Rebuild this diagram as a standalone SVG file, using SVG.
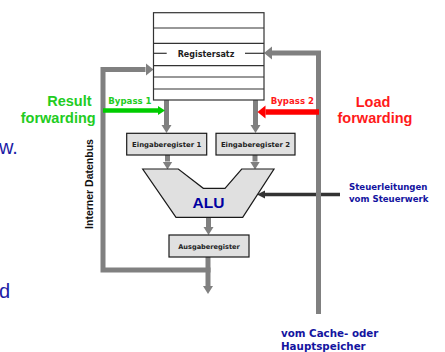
<svg xmlns="http://www.w3.org/2000/svg" width="445" height="352" viewBox="0 0 445 352">
<style>
.box{fill:#e0e0e0;stroke:#1a1a1a;stroke-width:1.2}
.reg{fill:#ffffff;stroke:#333;stroke-width:1.2}
.rl{stroke:#333;stroke-width:1.2}
.bus{fill:none;stroke:#808080;stroke-width:5;stroke-linejoin:miter}
.sm{font-family:"DejaVu Sans",Verdana,sans-serif;font-weight:bold}
.big{font-family:"Liberation Sans",Arial,sans-serif;font-weight:bold}
.blue{fill:#1414a0}
</style>
<defs>
<marker id="ag" markerUnits="userSpaceOnUse" viewBox="0 -6 10 12" markerWidth="10" markerHeight="12" refX="0" refY="0" orient="auto"><path d="M0,-5 L8,0 L0,5 z" fill="#808080"/></marker>
<marker id="agb" markerUnits="userSpaceOnUse" viewBox="0 -7 10 14" markerWidth="10" markerHeight="14" refX="0" refY="0" orient="auto"><path d="M0,-6.5 L8,0 L0,6.5 z" fill="#808080"/></marker>
<marker id="agr" markerUnits="userSpaceOnUse" viewBox="0 -5 8 10" markerWidth="8" markerHeight="10" refX="0" refY="0" orient="auto"><path d="M0,-4.5 L7,0 L0,4.5 z" fill="#00cc00"/></marker>
<marker id="ard" markerUnits="userSpaceOnUse" viewBox="0 -7 10 14" markerWidth="10" markerHeight="14" refX="0" refY="0" orient="auto"><path d="M0,-6.5 L8,0 L0,6.5 z" fill="#ff0000"/></marker>
<marker id="adk" markerUnits="userSpaceOnUse" viewBox="0 -5 10 10" markerWidth="10" markerHeight="10" refX="0" refY="0" orient="auto"><path d="M0,-4 L8,0 L0,4 z" fill="#333"/></marker>
</defs>
<rect width="445" height="352" fill="#ffffff"/>

<text class="big" x="-1" y="154" font-size="20" font-weight="normal" style="font-weight:normal" fill="#1c1ca6">w.</text>
<text class="big" x="-1" y="298" font-size="20" style="font-weight:normal" fill="#1c1ca6">d</text>

<g id="connectors">
<line x1="340" y1="194.5" x2="265" y2="194.5" stroke="#333" stroke-width="3.5" marker-end="url(#adk)"/>
<path class="bus" d="M210.5,270 H103 V69.5 H145.5" marker-end="url(#agb)"/>
<path class="bus" d="M318.5,314 V53 H272" marker-end="url(#agb)"/>
<line x1="166.5" y1="100" x2="166.5" y2="125" stroke="#808080" stroke-width="5" marker-end="url(#ag)"/>
<line x1="255.5" y1="100" x2="255.5" y2="125" stroke="#808080" stroke-width="5" marker-end="url(#ag)"/>
<line x1="167.5" y1="155" x2="167.5" y2="161.5" stroke="#808080" stroke-width="5" marker-end="url(#ag)"/>
<line x1="255" y1="155" x2="255" y2="161.5" stroke="#808080" stroke-width="5" marker-end="url(#ag)"/>
<line x1="208.5" y1="217" x2="208.5" y2="227" stroke="#808080" stroke-width="5" marker-end="url(#ag)"/>
<line x1="208" y1="257" x2="208" y2="286" stroke="#808080" stroke-width="5" marker-end="url(#ag)"/>
<line x1="103" y1="110.5" x2="158" y2="110.5" stroke="#00cc00" stroke-width="4.5" marker-end="url(#agr)"/>
<line x1="319" y1="112" x2="265.5" y2="112" stroke="#ff0000" stroke-width="5.5" marker-end="url(#ard)"/>
</g>

<g id="registersatz">
<rect class="reg" x="153.5" y="12.7" width="110.5" height="87.3"/>
<line class="rl" x1="153.5" y1="28" x2="264" y2="28"/>
<line class="rl" x1="153.5" y1="43.3" x2="264" y2="43.3"/>
<line class="rl" x1="153.5" y1="53.3" x2="166.7" y2="53.3"/>
<line class="rl" x1="245" y1="53.3" x2="264" y2="53.3"/>
<line class="rl" x1="153.5" y1="65.7" x2="264" y2="65.7"/>
<line class="rl" x1="153.5" y1="77" x2="264" y2="77"/>
<line class="rl" x1="153.5" y1="89" x2="264" y2="89"/>
<text class="sm" x="206" y="56.6" font-size="8" text-anchor="middle" fill="#222">Registersatz</text>
</g>

<g id="eingaberegister1">
<rect class="box" x="126.7" y="133.3" width="80" height="21.7"/>
<text class="sm" x="166.7" y="146.8" font-size="6.9" text-anchor="middle" fill="#222">Eingaberegister 1</text>
</g>
<g id="eingaberegister2">
<rect class="box" x="216" y="133.3" width="79" height="21.7"/>
<text class="sm" x="255.5" y="146.8" font-size="6.9" text-anchor="middle" fill="#222">Eingaberegister 2</text>
</g>

<g id="alu">
<path class="box" d="M142.7,169 L178.3,169 L203.3,188.3 L225,188.3 L241.7,169 L274,169 L242.7,217.3 L176,217.3 Z"/>
<text class="big" x="208.5" y="207.7" font-size="15.5" text-anchor="middle" fill="#0000a0">ALU</text>
</g>

<g id="ausgaberegister">
<rect class="box" x="169" y="235" width="80" height="22"/>
<text class="sm" x="209" y="249" font-size="6.6" text-anchor="middle" fill="#222">Ausgaberegister</text>
</g>

<g id="labels">
<text class="sm" x="108.3" y="104.3" font-size="8.6" fill="#22cc22">Bypass 1</text>
<text class="sm" x="270.7" y="104.3" font-size="8.6" fill="#ff1a1a">Bypass 2</text>
<text class="big" font-size="14.5" fill="#22cc22" text-anchor="end"><tspan x="91.5" y="106">Result</tspan><tspan x="95.7" y="122.5">forwarding</tspan></text>
<text class="big" font-size="14.5" fill="#ff1a1a" text-anchor="middle"><tspan x="373" y="106.7">Load</tspan><tspan x="375" y="123.3">forwarding</tspan></text>
<text class="big" font-size="10.5" fill="#111" text-anchor="middle" transform="translate(92.8,184) rotate(-90)">Interner Datenbus</text>
<text class="sm blue" font-size="8.6"><tspan x="349" y="189.5">Steuerleitungen</tspan><tspan x="349" y="201.6">vom Steuerwerk</tspan></text>
<text class="sm blue" font-size="10.3"><tspan x="281" y="336.7">vom Cache- oder</tspan><tspan x="281" y="349.5">Hauptspeicher</tspan></text>
</g>
</svg>
